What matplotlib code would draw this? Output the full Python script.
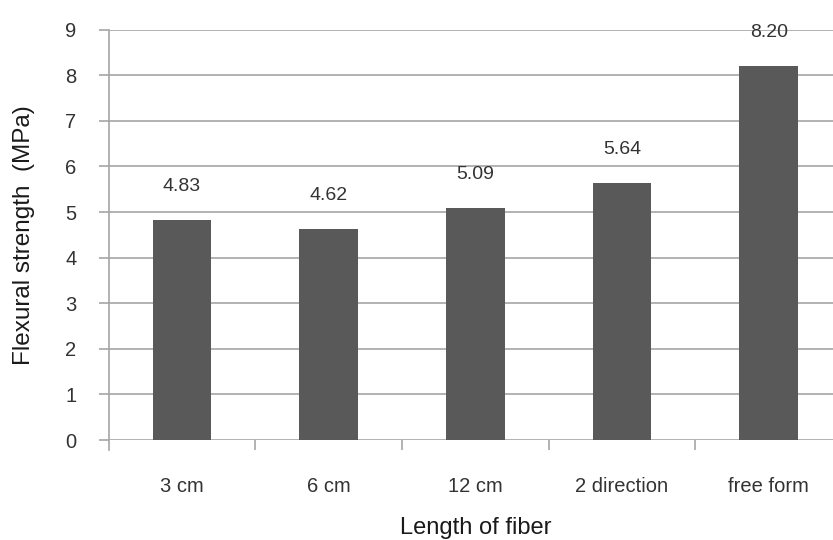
import matplotlib
matplotlib.use("Agg")
import matplotlib.pyplot as plt
import numpy as np

categories = ['3 cm', '6 cm', '12 cm', '2 direction', 'free form']
strength = [4.83, 4.62, 5.09, 5.64, 8.20]

plt.rcParams['font.family'] = ['Liberation Sans', 'DejaVu Sans']

GRID = '#a6a6a6'
TEXT = '#1a1a1a'
TICK_TEXT = '#333333'

fig = plt.figure(figsize=(8.33, 5.4), dpi=100)
# axes runs a little past the right edge of the figure
ax = fig.add_axes([108.7 / 833, 100 / 540, 733.3 / 833, 410.4 / 540])

x = np.arange(len(categories))
ax.bar(x, strength, width=0.4, color='#595959', zorder=3)
for xi, v in zip(x, strength):
    ax.text(xi, v + 0.74, '%.2f' % v, ha='center', va='center', fontsize=14, color=TICK_TEXT)

ax.set_xlim(-0.5, len(categories) - 0.5)
ax.set_ylim(0, 9)
ax.set_yticks(range(10))
ax.yaxis.grid(True, color=GRID, linewidth=1.2, zorder=0)

ax.set_xticks(x)
ax.set_xticklabels(categories)
ax.set_xticks(np.arange(0.5, len(categories) - 1, 1), minor=True)
ax.tick_params(axis='x', which='major', length=0, pad=27, labelsize=14.5, labelcolor=TICK_TEXT)
ax.tick_params(axis='x', which='minor', length=7.2, width=1.2, color=GRID)
ax.tick_params(axis='y', length=7.2, width=1.2, color=GRID, pad=16, labelsize=14.5, labelcolor=TICK_TEXT)

for side in ['top', 'right', 'bottom']:
    ax.spines[side].set_visible(False)
ax.spines['left'].set_color(GRID)
ax.spines['left'].set_linewidth(1.2)
ax.spines['left'].set_bounds(-0.22, 9)

ax.set_ylabel('Flexural strength  (MPa)', fontsize=17.5, color=TEXT, va='center')
ax.yaxis.set_label_coords((24 - 108.7) / 733.3, 0.5)
ax.set_xlabel('Length of fiber', fontsize=17, color=TEXT, va='center')
ax.xaxis.set_label_coords(0.5, (440 - 528) / 410.4)

fig.savefig('out.png', dpi=100)
